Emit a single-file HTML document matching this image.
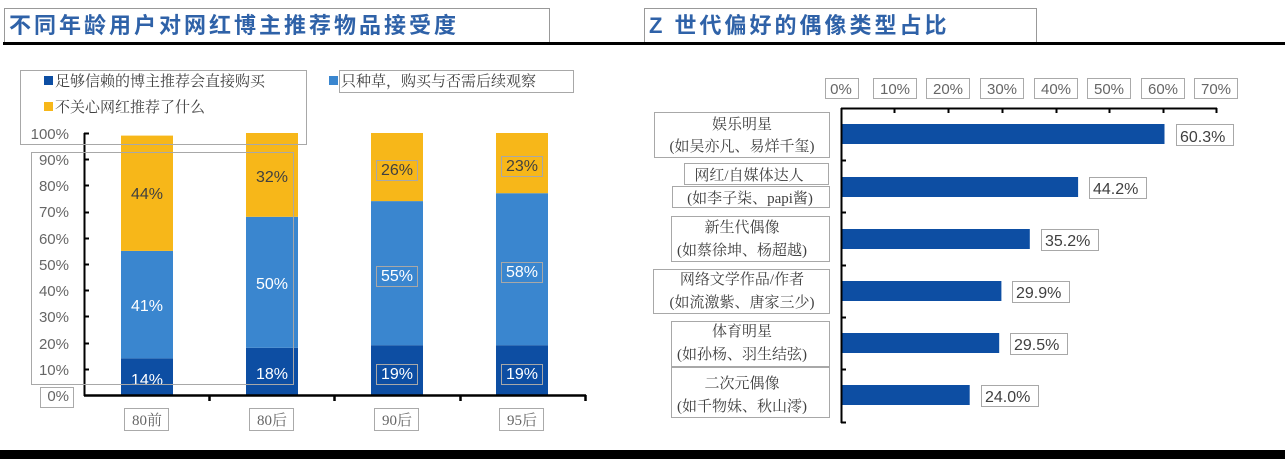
<!DOCTYPE html>
<html><head><meta charset="utf-8"><style>
body{margin:0;background:#fff;}
svg{display:block;}
.n{font-family:"Liberation Sans",sans-serif;}
.c{font-family:"Liberation Serif","Noto Serif CJK SC",serif;}
</style></head><body>
<svg width="1285" height="459" viewBox="0 0 1285 459" xmlns="http://www.w3.org/2000/svg">
<rect width="1285" height="459" fill="#fff"/>
<rect x="4.5" y="8.5" width="545" height="34" fill="none" stroke="#999"/>
<text x="9" y="33" font-family="'Liberation Sans','Noto Sans CJK SC',sans-serif" font-weight="bold" font-size="22" letter-spacing="3" fill="#2f62a8">不同年龄用户对网红博主推荐物品接受度</text>
<rect x="644.5" y="8.5" width="392" height="34" fill="none" stroke="#999"/>
<text x="649" y="33" font-family="'Liberation Sans','Noto Sans CJK SC',sans-serif" font-weight="bold" font-size="22" letter-spacing="3" fill="#2f62a8">Z 世代偏好的偶像类型占比</text>
<rect x="3" y="42" width="1282" height="3" fill="#000"/>
<rect x="0" y="450" width="1285" height="9" fill="#000"/>

<g class="n" font-size="15" fill="#666" text-anchor="end">
<text x="69" y="139">100%</text><text x="69" y="165">90%</text><text x="69" y="191">80%</text>
<text x="69" y="217">70%</text><text x="69" y="244">60%</text><text x="69" y="270">50%</text>
<text x="69" y="296">40%</text><text x="69" y="322">30%</text><text x="69" y="349">20%</text>
<text x="69" y="375">10%</text><text x="69" y="401">0%</text>
</g>
<rect x="40.5" y="387.5" width="33" height="20" fill="none" stroke="#aaa"/>
<g>
<rect x="121" y="358.3" width="52" height="36.7" fill="#0d4ea3"/>
<rect x="121" y="250.9" width="52" height="107.4" fill="#3a86cf"/>
<rect x="121" y="135.6" width="52" height="115.3" fill="#f7b719"/>
<rect x="246" y="347.8" width="52" height="47.2" fill="#0d4ea3"/>
<rect x="246" y="216.8" width="52" height="131" fill="#3a86cf"/>
<rect x="246" y="133" width="52" height="83.8" fill="#f7b719"/>
<rect x="371" y="345.2" width="52" height="49.8" fill="#0d4ea3"/>
<rect x="371" y="201.1" width="52" height="144.1" fill="#3a86cf"/>
<rect x="371" y="133" width="52" height="68.1" fill="#f7b719"/>
<rect x="496" y="345.2" width="52" height="49.8" fill="#0d4ea3"/>
<rect x="496" y="193.2" width="52" height="152" fill="#3a86cf"/>
<rect x="496" y="133" width="52" height="60.2" fill="#f7b719"/>
</g>
<path d="M84.5 133V396M84 133.5h5M84 159.5h5M84 185.5h5M84 212.5h5M84 238.5h5M84 264.5h5M84 290.5h5M84 316.5h5M84 343.5h5M84 369.5h5" stroke="#000" stroke-width="2" fill="none"/>
<path d="M84 395.5H586M209.5 395v6M334.5 395v6M460.5 395v6M585.5 395v6" stroke="#000" stroke-width="2.5" fill="none"/>
<g class="n" font-size="16" text-anchor="middle">
<text x="147" y="199" fill="#404040">44%</text>
<text x="147" y="311" fill="#fff">41%</text>
<text x="147" y="385" fill="#fff">14%</text>
<text x="272" y="182" fill="#404040">32%</text>
<text x="272" y="289" fill="#fff">50%</text>
<text x="272" y="379" fill="#fff">18%</text>
<text x="397" y="175" fill="#404040">26%</text>
<text x="397" y="281" fill="#fff">55%</text>
<text x="397" y="379" fill="#fff">19%</text>
<text x="522" y="171" fill="#404040">23%</text>
<text x="522" y="277" fill="#fff">58%</text>
<text x="522" y="379" fill="#fff">19%</text>
</g>
<g fill="none" stroke="#a8a8a8">
<rect x="376.5" y="160.5" width="41" height="20"/>
<rect x="501.5" y="156.5" width="41" height="20"/>
<rect x="376.5" y="266.5" width="41" height="20"/>
<rect x="501.5" y="262.5" width="41" height="20"/>
<rect x="376.5" y="364.5" width="41" height="20"/>
<rect x="501.5" y="364.5" width="41" height="20"/>
<rect x="31.5" y="152.5" width="262" height="232"/>
</g>
<g class="c" font-size="15" fill="#666" text-anchor="middle">
<text x="147" y="425">80前</text><text x="272" y="425">80后</text>
<text x="397" y="425">90后</text><text x="522" y="425">95后</text>
</g>
<g fill="none" stroke="#aaa">
<rect x="124.5" y="408.5" width="44" height="22"/><rect x="249.5" y="408.5" width="44" height="22"/>
<rect x="374.5" y="408.5" width="44" height="22"/><rect x="499.5" y="408.5" width="44" height="22"/>
</g>
<rect x="20.5" y="70.5" width="286" height="74" fill="none" stroke="#a8a8a8"/>
<rect x="44" y="76" width="9" height="9" fill="#0d4ea3"/>
<rect x="44" y="102" width="9" height="9" fill="#f7b719"/>
<rect x="329" y="76" width="9" height="9" fill="#3a86cf"/>
<rect x="339.5" y="70.5" width="234" height="22" fill="none" stroke="#a8a8a8"/>
<g class="c" font-size="15" fill="#404040">
<text x="55" y="86">足够信赖的博主推荐会直接购买</text>
<text x="55" y="112">不关心网红推荐了什么</text>
<text x="341" y="86">只种草，购买与否需后续观察</text>
</g>

<g class="n" font-size="15" fill="#666" text-anchor="middle">
<text x="841" y="94">0%</text><text x="895" y="94">10%</text><text x="948" y="94">20%</text>
<text x="1002" y="94">30%</text><text x="1056" y="94">40%</text><text x="1109" y="94">50%</text>
<text x="1163" y="94">60%</text><text x="1216" y="94">70%</text>
</g>
<g fill="none" stroke="#aaa">
<rect x="825.5" y="78.5" width="33" height="20"/><rect x="873.5" y="78.5" width="43" height="20"/>
<rect x="926.5" y="78.5" width="43" height="20"/><rect x="980.5" y="78.5" width="43" height="20"/>
<rect x="1034.5" y="78.5" width="43" height="20"/><rect x="1087.5" y="78.5" width="43" height="20"/>
<rect x="1141.5" y="78.5" width="43" height="20"/><rect x="1194.5" y="78.5" width="43" height="20"/>
</g>
<g fill="#0d4ea3">
<rect x="841" y="124" width="323.5" height="20"/>
<rect x="841" y="177" width="237.1" height="20"/>
<rect x="841" y="229" width="188.8" height="20"/>
<rect x="841" y="281" width="160.4" height="20"/>
<rect x="841" y="333" width="158.2" height="20"/>
<rect x="841" y="385" width="128.7" height="20"/>
</g>
<path d="M841.5 108V423M841 108.5H1217M894.5 108v5M948.5 108v5M1002.5 108v5M1056.5 108v5M1109.5 108v5M1163.5 108v5M1216.5 108v5M841 160.5h5M841 212.5h5M841 265.5h5M841 317.5h5M841 369.5h5M841 422.5h5" stroke="#000" stroke-width="2" fill="none"/>
<g class="n" font-size="16" fill="#404040">
<text x="1180" y="142">60.3%</text><text x="1093" y="194">44.2%</text>
<text x="1045" y="246">35.2%</text><text x="1016" y="298">29.9%</text>
<text x="1014" y="350">29.5%</text><text x="985" y="402">24.0%</text>
</g>
<g fill="none" stroke="#a8a8a8">
<rect x="1176.5" y="124.5" width="57" height="21"/><rect x="1089.5" y="177.5" width="57" height="21"/>
<rect x="1041.5" y="229.5" width="57" height="21"/><rect x="1012.5" y="281.5" width="57" height="21"/>
<rect x="1010.5" y="333.5" width="57" height="21"/><rect x="981.5" y="385.5" width="57" height="21"/>
</g>
<g class="c" font-size="15" fill="#404040" text-anchor="middle">
<text x="742" y="129">娱乐明星</text><text x="742" y="151">(如吴亦凡、易烊千玺)</text>
<text x="749" y="180">网红/自媒体达人</text><text x="750" y="203">(如李子柒、papi酱)</text>
<text x="742" y="232">新生代偶像</text><text x="742" y="255">(如蔡徐坤、杨超越)</text>
<text x="742" y="284">网络文学作品/作者</text><text x="742" y="307">(如流激紫、唐家三少)</text>
<text x="742" y="336">体育明星</text><text x="742" y="359">(如孙杨、羽生结弦)</text>
<text x="742" y="388">二次元偶像</text><text x="742" y="411">(如千物妹、秋山澪)</text>
</g>
<g fill="none" stroke="#a8a8a8">
<rect x="654.5" y="112.5" width="175" height="45"/>
<rect x="684.5" y="163.5" width="144" height="21"/>
<rect x="672.5" y="186.5" width="157" height="21"/>
<rect x="671.5" y="216.5" width="158" height="45"/>
<rect x="653.5" y="269.5" width="176" height="44"/>
<rect x="671.5" y="321.5" width="158" height="45"/>
<rect x="671.5" y="367.5" width="158" height="50"/>
</g>
</svg>
</body></html>
